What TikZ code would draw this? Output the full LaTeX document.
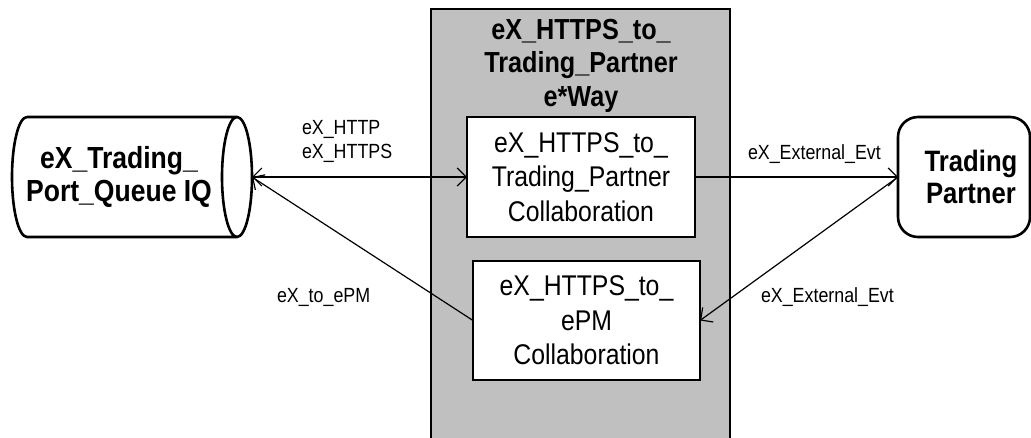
\documentclass[tikz,border=0pt]{standalone}
\usepackage{fontspec}
\setmainfont{Liberation Sans}[FakeStretch=0.87]
\usetikzlibrary{arrows.meta}
\definecolor{boxgray}{RGB}{192,192,192}
\tikzset{
  every node/.style={inner sep=0pt, outer sep=0pt},
  bigbold/.style={font=\fontsize{29}{33.5}\selectfont\bfseries, align=center},
  collab/.style={draw, line width=1.8pt, fill=white, font=\fontsize{28.5}{34.5}\selectfont, align=center},
  lbl/.style={font=\fontsize{20.5}{24.5}\selectfont, align=left},
  tip/.tip={Straight Barb[length=9pt,width=18pt]},
  conn/.style={line width=1.2pt, -tip},
  heavy/.style={line width=2.6pt},
}
\begin{document}
\begin{tikzpicture}[x=1pt, y=-1pt]
\useasboundingbox (0,0) rectangle (1031,438);
% e*Way container
\node[draw, line width=2.2pt, fill=boxgray, anchor=north west, minimum width=299, minimum height=440] (eway) at (431,9) {};
\node[bigbold, anchor=north] (ewaytitle) at (581,19) {eX\_HTTPS\_to\_\\Trading\_Partner\\e*Way};
% collaborations
\node[collab, minimum width=228, minimum height=120] (c1) at (581,177) {eX\_HTTPS\_to\_\\Trading\_Partner\\Collaboration};
\node[collab, minimum width=227, minimum height=119] (c2) at (586.5,320.5) {eX\_HTTPS\_to\_\\ePM\\Collaboration};
% queue cylinder
\draw[heavy] (27,117) -- (237,117)
  (27,117) arc[start angle=270, end angle=90, x radius=15, y radius=60] -- (237,237)
  (237,177) ellipse [x radius=15, y radius=60];
\node[bigbold, font=\fontsize{30.5}{33.5}\selectfont\bfseries] (iq) at (119,177) {eX\_Trading\_\\Port\_Queue IQ};
\coordinate (iqport) at (252,177);
% trading partner
\node[draw, heavy, rounded corners=20pt, minimum width=132, minimum height=120] (tp) at (964,177) {};
\node[bigbold, font=\fontsize{29.5}{31.5}\selectfont\bfseries] (tptext) at (971,177) {Trading\\Partner};
% connectors
\draw[conn, tip-tip] (iqport) -- (c1.west);
\draw[conn] (c1.east) -- (tp.west);
\draw[conn] (tp.west) -- (c2.east);
\draw[conn] (c2.west) -- (iqport);
% labels
\node[lbl, anchor=north west] (l1) at (302,120.3) {eX\_HTTP\\eX\_HTTPS};
\node[lbl, anchor=base west] (l2) at (277,303) {eX\_to\_ePM};
\node[lbl, anchor=base west] (l3) at (748,160) {eX\_External\_Evt};
\node[lbl, anchor=base west] (l4) at (761,303) {eX\_External\_Evt};
\end{tikzpicture}
\end{document}
